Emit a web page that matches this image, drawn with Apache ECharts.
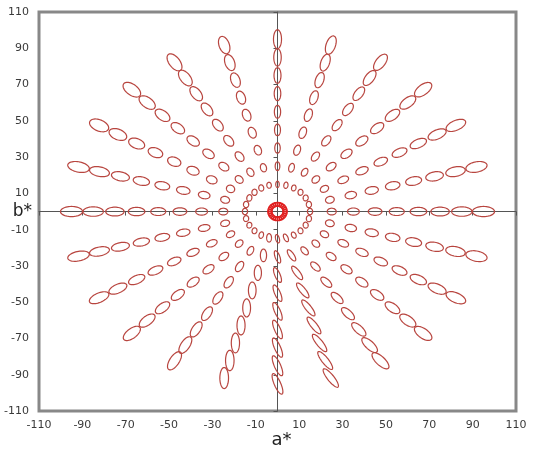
<!DOCTYPE html>
<html><head><meta charset="utf-8">
<script src="https://cdn.jsdelivr.net/npm/echarts@6/dist/echarts.min.js"></script>
<style>html,body{margin:0;padding:0;background:#fff}#c{width:534px;height:449px}</style>
</head><body><div id="c"></div>
<script>
// Spoke hue angles (deg) and chroma rings
var hues = [0,15,30,45,60,75,90,105,120,135,150,165,180,195,210,225,240,255,270,285,300,315,330,345];
var chromas = [15,25,35,45,55,65,75,85,95];
// Outer-ring (C=95) ellipse semi-axes per spoke: radial, tangential (a*b* units), and tilt from radial (deg)
var outerRadial     = [5.1,5.0,5.0,5.0,5.0,5.2,5.2,4.9,5.2,5.0,4.8,5.1,5.1,5.1,5.0,5.0,5.5,5.8,6.0,6.0,5.5,5.0,5.0,5.0];
var outerTangential = [2.8,2.8,2.6,2.6,2.3,2.2,1.85,2.4,2.6,2.8,3.0,2.8,2.8,2.6,2.5,2.5,2.3,2.0,1.5,1.6,2.2,2.5,2.6,2.8];
var tilt            = [0,0,0,0,0,0,0,0,0,0,0,0,0,0,0,0,3,15,20,18,10,2,0,0];
// Blue-region spokes keep their elongated shape further in
var blueSpoke       = [0,0,0,0,0,0,0,0,0,0,0,0,0,0,0,0,0,1,1,1,0,0,0,0];
// Relative size of each ring vs the outer ring
var radialScale         = [0.34,0.47,0.55,0.62,0.68,0.75,0.83,0.92,1.00];
var tangentialScale     = [0.62,0.66,0.70,0.74,0.78,0.82,0.87,0.93,1.00];
var blueRadialScale     = [0.40,0.60,0.72,0.80,0.86,0.90,0.94,0.97,1.00];
var blueTangentialScale = [0.80,0.82,0.85,0.88,0.90,0.93,0.95,0.98,1.00];
// Near-neutral rings appear narrower along a* (horizontal) than along b*
var aSqueeze            = [0.70,0.87,0.97,1,1,1,1,1,1];
// Central cluster (near-neutral)
var centerRadius = [3.5, 4.0];   // a*, b* radius of the cluster
var centerSemi = [1.0, 1.1];     // a*, b* semi-axes of each small ellipse
var tickValues = [-110,-90,-70,-50,-30,-10,10,30,50,70,90,110];

var ellipses = [];
for (var i = 0; i < hues.length; i++) {
  var h = hues[i] * Math.PI / 180;
  var rs = blueSpoke[i] ? blueRadialScale : radialScale;
  var ts = blueSpoke[i] ? blueTangentialScale : tangentialScale;
  for (var j = 0; j < chromas.length; j++) {
    var C = chromas[j];
    ellipses.push([C*Math.cos(h), C*Math.sin(h), outerRadial[i]*rs[j], outerTangential[i]*ts[j], hues[i] + tilt[i], aSqueeze[j]]);
  }
}
var centers = [];
for (var k = 0; k < hues.length; k++) {
  var hh = hues[k] * Math.PI / 180;
  centers.push([centerRadius[0]*Math.cos(hh), centerRadius[1]*Math.sin(hh), centerSemi[0], centerSemi[1], 0, 1]);
}

function renderEllipse(color, width) {
  return function (params, api) {
    var cx = api.value(0), cy = api.value(1), a = api.value(2), b = api.value(3), th = api.value(4) * Math.PI / 180, sq = api.value(5);
    var pts = [];
    for (var t = 0; t < 48; t++) {
      var u = t / 48 * Math.PI * 2;
      var lx = a * Math.cos(u), ly = b * Math.sin(u);
      var x = cx + (lx * Math.cos(th) - ly * Math.sin(th)) * sq;
      var y = cy + lx * Math.sin(th) + ly * Math.cos(th);
      pts.push(api.coord([x, y]));
    }
    return {type: 'polygon', shape: {points: pts}, style: {fill: 'none', stroke: color, lineWidth: width}};
  };
}

var labelFmt = function (v) { return tickValues.indexOf(v) >= 0 ? String(v) : ''; };
var labelStyle = {color: '#3a3a3a', fontSize: 11, fontFamily: 'DejaVu Sans'};

var chart = echarts.init(document.getElementById('c'), null, {renderer: 'canvas'});
chart.setOption({
  animation: false,
  backgroundColor: '#fff',
  grid: {left: 39, right: 18, top: 12, bottom: 25, show: true, borderColor: '#888', borderWidth: 3, backgroundColor: 'transparent'},
  xAxis: {
    type: 'value', min: -110, max: 110, interval: 10,
    name: 'b*', nameLocation: 'start', nameGap: 7,
    nameTextStyle: {color: '#222', fontSize: 17, fontFamily: 'DejaVu Sans', verticalAlign: 'middle'},
    axisLine: {onZero: true, lineStyle: {color: '#555', width: 1}},
    axisTick: {show: true, length: 4, lineStyle: {color: '#555'}, customValues: tickValues},
    axisLabel: Object.assign({margin: 9, formatter: labelFmt, customValues: tickValues}, labelStyle),
    splitLine: {show: false}
  },
  yAxis: {
    type: 'value', min: -110, max: 110, interval: 10,
    name: 'a*', nameLocation: 'start', nameGap: 6,
    nameTextStyle: {color: '#222', fontSize: 18, fontFamily: 'DejaVu Sans', align: 'center', padding: [0,0,0,8]},
    axisLine: {onZero: true, lineStyle: {color: '#555', width: 1}},
    axisTick: {show: true, length: 4, lineStyle: {color: '#555'}, customValues: tickValues},
    axisLabel: Object.assign({margin: 10, formatter: labelFmt, customValues: tickValues}, labelStyle),
    splitLine: {show: false}
  },
  series: [
    {type: 'custom', renderItem: renderEllipse('#b8453f', 1.2), data: ellipses, z: 3, silent: true},
    {type: 'custom', renderItem: renderEllipse('#e02020', 1.3), data: centers, z: 4, silent: true}
  ]
});
</script></body></html>
